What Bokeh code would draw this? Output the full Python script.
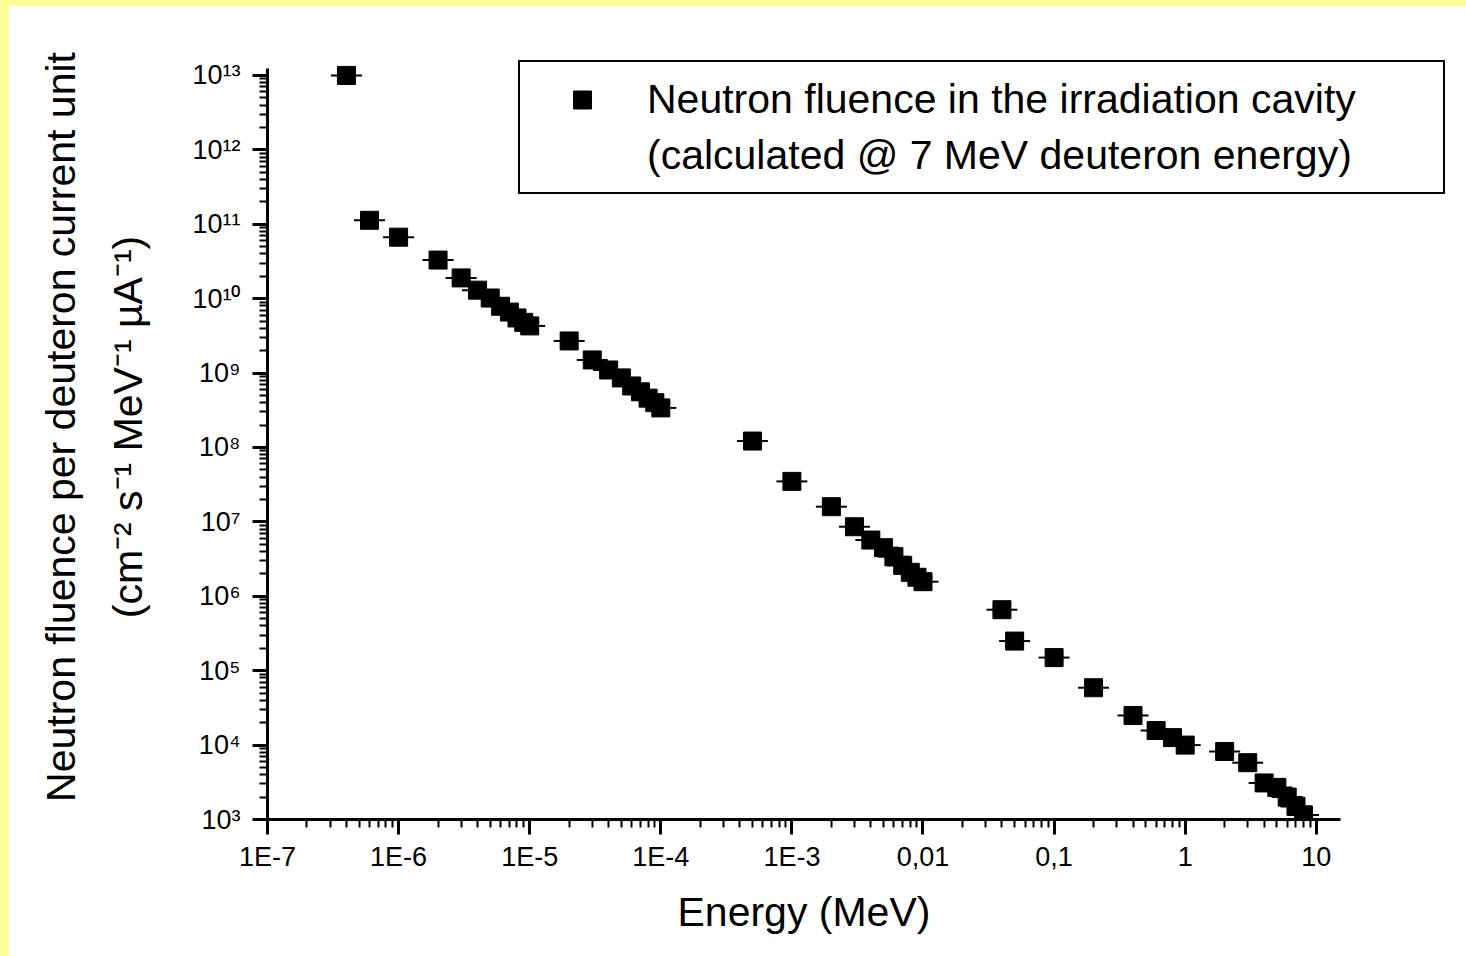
import math
from bokeh.plotting import figure
from bokeh.models import FixedTicker, Legend, LegendItem, GlobalInlineStyleSheet, Title
from bokeh.embed import file_html
from bokeh.resources import INLINE

# ---------------- data ----------------
energy_mev = [
    4e-7, 6e-7, 1e-6, 2e-6, 3e-6, 4e-6, 5e-6, 6e-6, 7e-6, 8e-6, 9e-6, 1e-5,
    2e-5, 3e-5, 4e-5, 5e-5, 6e-5, 7e-5, 8e-5, 9e-5, 1e-4,
    5e-4, 1e-3, 2e-3, 3e-3, 4e-3, 5e-3, 6e-3, 7e-3, 8e-3, 9e-3, 1e-2,
    0.04, 0.05, 0.1, 0.2, 0.4, 0.6, 0.8, 1.0, 2.0, 3.0, 4.0, 5.0, 6.0, 7.0, 8.0,
]
fluence = [
    1.0e13, 1.13e11, 6.7e10, 3.3e10, 1.9e10, 1.3e10, 1.02e10, 7.9e9, 6.6e9, 5.5e9, 4.8e9, 4.3e9,
    2.7e9, 1.5e9, 1.1e9, 8.6e8, 6.7e8, 5.6e8, 4.6e8, 4.0e8, 3.4e8,
    1.22e8, 3.5e7, 1.6e7, 8.6e6, 5.7e6, 4.5e6, 3.4e6, 2.6e6, 2.1e6, 1.8e6, 1.57e6,
    6.6e5, 2.5e5, 1.5e5, 5.9e4, 2.5e4, 1.57e4, 1.26e4, 1.0e4, 8.2e3, 5.8e3,
    3.1e3, 2.7e3, 2.0e3, 1.5e3, 1.15e3,
]

x_tick_values = [1e-7, 1e-6, 1e-5, 1e-4, 1e-3, 1e-2, 1e-1, 1.0, 10.0]
x_tick_labels = ["1E-7", "1E-6", "1E-5", "1E-4", "1E-3", "0,01", "0,1", "1", "10"]
y_tick_values = [1e3, 1e4, 1e5, 1e6, 1e7, 1e8, 1e9, 1e10, 1e11, 1e12, 1e13]
y_tick_labels = ["10³", "10⁴", "10⁵", "10⁶", "10⁷", "10⁸", "10⁹",
                 "10¹⁰", "10¹¹", "10¹²", "10¹³"]
legend_labels = ["Neutron fluence in the irradiation cavity",
                 "(calculated @ 7 MeV deuteron energy)"]
x_title = "Energy (MeV)"
y_title = "Neutron fluence per deuteron current unit\n(cm⁻² s⁻¹ MeV⁻¹ µA⁻¹)"

FONT = "Liberation Sans"

# ---------------- figure ----------------
p = figure(
    width=1450, height=940,
    x_axis_type="log", y_axis_type="log",
    x_range=(1e-7, 10 ** 2.0237), y_range=(1e3, 10 ** 13.55),
    output_backend="svg", toolbar_location=None,
    min_border_left=258, min_border_right=9,
    min_border_top=28, min_border_bottom=126,
    background_fill_color="white", border_fill_color="white",
    outline_line_color=None,
)
p.stylesheets = [GlobalInlineStyleSheet(
    css="body{margin:0 !important;border-top:6px solid #FFFF99;"
        "border-left:9px solid #FFFF99;background:#ffffff;}")]
p.xgrid.visible = False
p.ygrid.visible = False

# ticks
x_minor = [v * k for v in x_tick_values[:-1] for k in range(2, 10)]
y_minor = [v * k for v in y_tick_values[:-1] for k in range(2, 10)]
p.xaxis.ticker = FixedTicker(ticks=x_tick_values, minor_ticks=x_minor)
p.yaxis.ticker = FixedTicker(ticks=y_tick_values, minor_ticks=y_minor)
p.xaxis.major_label_overrides = dict(zip(x_tick_values, x_tick_labels))
p.yaxis.major_label_overrides = dict(zip(y_tick_values, y_tick_labels))
p.xaxis.bounds = (1e-7, 10 ** 1.185)
p.yaxis.bounds = (1e3, 10 ** 13.09)

for ax in (p.xaxis[0], p.yaxis[0]):
    ax.axis_line_width = 3
    ax.axis_line_color = "black"
    ax.major_tick_line_width = 3
    ax.minor_tick_line_width = 2
    ax.major_tick_line_color = "black"
    ax.minor_tick_line_color = "black"
    ax.major_tick_in = 0
    ax.major_tick_out = 15
    ax.minor_tick_in = 0
    ax.minor_tick_out = 8
    ax.major_label_text_font = FONT
    ax.major_label_text_font_size = "27px"
    ax.major_label_text_color = "black"
    ax.axis_label_text_font = FONT
    ax.axis_label_text_font_size = "41px"
    ax.axis_label_text_font_style = "normal"
    ax.axis_label_text_color = "black"

p.xaxis.major_label_standoff = 7
p.yaxis.major_label_standoff = 12
p.yaxis.axis_label = y_title
p.yaxis.axis_label_standoff = 38
p.yaxis.axis_label_text_line_height = 1.47

# x axis title: placed under the axis line (which is shorter than the frame)
p.add_layout(Title(text=x_title, align="left", offset=410, standoff=24,
                   text_font=FONT, text_font_size="41px",
                   text_font_style="normal", text_color="black"), "below")

# ---------------- data marks ----------------
p.scatter(energy_mev, fluence, marker="dash", size=31, line_width=2,
          line_color="black")
sq = p.scatter(energy_mev, fluence, marker="square", size=18,
               fill_color="black", line_color="black")
blank = p.scatter(x=[], y=[], marker="square", size=18,
                  fill_alpha=0, line_alpha=0)

legend = Legend(
    items=[LegendItem(label=legend_labels[0], renderers=[sq]),
           LegendItem(label=legend_labels[1], renderers=[blank])],
    location=(251, 625), margin=0, padding=9, spacing=0,
    glyph_width=106, glyph_height=45, label_standoff=12,
    label_width=787, label_height=56,
    label_text_font=FONT, label_text_font_size="41px", label_text_color="black",
    border_line_color="black", border_line_width=2, border_line_alpha=1,
    background_fill_color="white", background_fill_alpha=1,
)
p.add_layout(legend)

open("out.html", "w").write(file_html(p, INLINE))
